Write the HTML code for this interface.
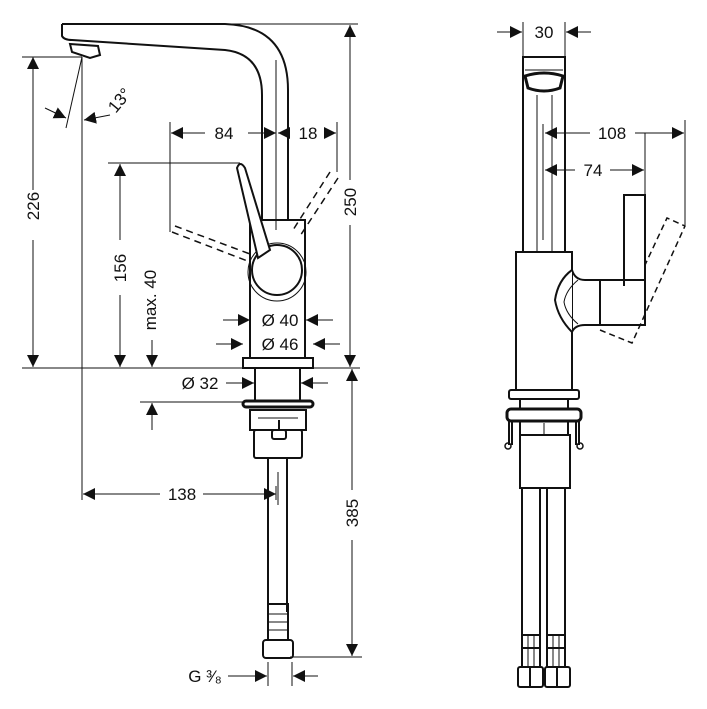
<!DOCTYPE html>
<html><head><meta charset="utf-8"><style>html,body{margin:0;padding:0;background:#fff}svg{display:block}text{font-family:"Liberation Sans",sans-serif;font-size:17px;fill:#111}</style></head><body>
<svg width="707" height="709" viewBox="0 0 707 709" xmlns="http://www.w3.org/2000/svg">
<defs>
<marker id="a" viewBox="0 0 10 10" refX="10" refY="5" markerWidth="12" markerHeight="12" markerUnits="userSpaceOnUse" orient="auto"><path d="M0,0L10,5L0,10z" fill="#111"/></marker>
</defs>
<g stroke="#111" fill="none" stroke-width="1">
<line x1="62" y1="24" x2="358" y2="24"/>
<line x1="22" y1="57" x2="82" y2="57"/>
<line x1="82" y1="57" x2="82" y2="500"/>
<line x1="22" y1="368" x2="360" y2="368"/>
<line x1="170" y1="122" x2="170" y2="232"/>
<line x1="337" y1="122" x2="337" y2="172"/>
<line x1="108" y1="163" x2="240" y2="163"/>
<line x1="140" y1="402" x2="250" y2="402"/>
<line x1="82" y1="57" x2="66" y2="128"/>
<line x1="276" y1="486" x2="276" y2="500"/>
<line x1="268" y1="662" x2="268" y2="686"/>
<line x1="292" y1="662" x2="292" y2="686"/>
<line x1="290" y1="657" x2="362" y2="657"/>
<line x1="33" y1="190" x2="33" y2="57" marker-end="url(#a)"/><line x1="33" y1="240" x2="33" y2="367" marker-end="url(#a)"/>
<line x1="120" y1="240" x2="120" y2="164" marker-end="url(#a)"/><line x1="120" y1="295" x2="120" y2="367" marker-end="url(#a)"/>
<line x1="152" y1="340" x2="152" y2="367" marker-end="url(#a)"/>
<line x1="152" y1="430" x2="152" y2="403" marker-end="url(#a)"/>
<line x1="350" y1="180" x2="350" y2="25" marker-end="url(#a)"/><line x1="350" y1="225" x2="350" y2="367" marker-end="url(#a)"/>
<line x1="352" y1="490" x2="352" y2="369" marker-end="url(#a)"/><line x1="352" y1="540" x2="352" y2="656" marker-end="url(#a)"/>
<line x1="205" y1="133" x2="171" y2="133" marker-end="url(#a)"/><line x1="248" y1="133" x2="276" y2="133" marker-end="url(#a)"/>
<line x1="290" y1="133" x2="278" y2="133" marker-end="url(#a)"/><line x1="326" y1="133" x2="336" y2="133" marker-end="url(#a)"/>
<line x1="223" y1="320" x2="250" y2="320" marker-end="url(#a)"/><line x1="333" y1="320" x2="306" y2="320" marker-end="url(#a)"/>
<line x1="216" y1="344" x2="243" y2="344" marker-end="url(#a)"/><line x1="340" y1="344" x2="313" y2="344" marker-end="url(#a)"/>
<line x1="226" y1="383" x2="254" y2="383" marker-end="url(#a)"/><line x1="328" y1="383" x2="301" y2="383" marker-end="url(#a)"/>
<line x1="160" y1="494" x2="83" y2="494" marker-end="url(#a)"/><line x1="203" y1="494" x2="276" y2="494" marker-end="url(#a)"/>
<line x1="228" y1="676" x2="267" y2="676" marker-end="url(#a)"/><line x1="318" y1="676" x2="293" y2="676" marker-end="url(#a)"/>
<line x1="45" y1="108" x2="66" y2="118" marker-end="url(#a)"/>
<line x1="110" y1="115" x2="84" y2="120" marker-end="url(#a)"/>
</g>
<g stroke="#111" fill="none" stroke-width="2">
<path d="M62,24 L225,24 Q288,26 288,90 L288,220"/>
<path d="M62,24 L62,36 Q64,40 72,40 L225,50 Q262,54 262,95 L262,220"/>
<path d="M70,44 L98,46 L100,55 L90,58 L72,52 Z"/>
<line x1="276" y1="60" x2="276" y2="230" stroke-width="1"/>
<rect x="250" y="220" width="55" height="138"/>
<rect x="243" y="358" width="70" height="10"/>
<circle cx="277" cy="270" r="25"/>
<circle cx="277" cy="272" r="29" stroke-width="1"/>
<path d="M237,168 Q240,160 245,168 L270,250 L258,258 Z" fill="#fff"/>
<path d="M172,232 L250,262 M175,226 L250,254" stroke-dasharray="7,5" stroke-width="1.5"/>
<path d="M330,172 L293,230 M338,178 L300,236" stroke-dasharray="7,5" stroke-width="1.5"/>
<rect x="255" y="368" width="45" height="33"/>
<rect x="243" y="401" width="70" height="6" rx="3" stroke-width="3"/>
<rect x="250" y="410" width="56" height="20"/>
<line x1="258" y1="418" x2="298" y2="418" stroke-width="1"/>
<rect x="272" y="430" width="14" height="9" rx="2"/>
<line x1="279" y1="420" x2="279" y2="430"/>
<rect x="254" y="430" width="48" height="28" rx="2"/>
<line x1="268" y1="458" x2="268" y2="612"/><line x1="287" y1="458" x2="287" y2="612"/>
<line x1="278" y1="472" x2="278" y2="505" stroke-width="1"/>
<rect x="268" y="604" width="20" height="36"/>
<line x1="268" y1="614" x2="288" y2="614" stroke-width="1"/><line x1="268" y1="622" x2="288" y2="622" stroke-width="1"/><line x1="268" y1="630" x2="288" y2="630" stroke-width="1"/>
<rect x="263" y="640" width="30" height="18" rx="3"/>
</g>
<g>
<text x="224" y="139" text-anchor="middle">84</text>
<text x="308" y="139" text-anchor="middle">18</text>
<text x="280" y="326" text-anchor="middle">Ø 40</text>
<text x="280" y="350" text-anchor="middle">Ø 46</text>
<text x="200" y="389" text-anchor="middle">Ø 32</text>
<text x="182" y="500" text-anchor="middle">138</text>
<text x="205" y="682" text-anchor="middle">G ³⁄₈</text>
<text transform="translate(39,206) rotate(-90)" text-anchor="middle">226</text>
<text transform="translate(126,268) rotate(-90)" text-anchor="middle">156</text>
<text transform="translate(156,300) rotate(-90)" text-anchor="middle">max. 40</text>
<text transform="translate(356,202) rotate(-90)" text-anchor="middle">250</text>
<text transform="translate(358,513) rotate(-90)" text-anchor="middle">385</text>
<text transform="translate(124,104) rotate(-50)" text-anchor="middle">13°</text>
</g>
<!-- right view -->
<g stroke="#111" fill="none" stroke-width="1">
<line x1="523" y1="22" x2="523" y2="57"/><line x1="565" y1="22" x2="565" y2="57"/>
<line x1="685" y1="120" x2="685" y2="225"/><line x1="645" y1="133" x2="645" y2="195"/>
<line x1="497" y1="32" x2="522" y2="32" marker-end="url(#a)"/><line x1="591" y1="32" x2="566" y2="32" marker-end="url(#a)"/>
<line x1="590" y1="133" x2="545" y2="133" marker-end="url(#a)"/><line x1="635" y1="133" x2="684" y2="133" marker-end="url(#a)"/>
<line x1="575" y1="170" x2="545" y2="170" marker-end="url(#a)"/><line x1="610" y1="170" x2="644" y2="170" marker-end="url(#a)"/>
<line x1="543" y1="124" x2="543" y2="240"/>
<line x1="537" y1="95" x2="537" y2="252"/><line x1="552" y1="95" x2="552" y2="252"/>
</g>
<g stroke="#111" fill="none" stroke-width="2">
<rect x="523" y="57" width="42" height="195"/>
<path d="M525,76 Q544,70 563,76 L560,88 Q544,94 528,88 Z" stroke-width="3"/>
<line x1="525" y1="70" x2="563" y2="70" stroke-width="1"/>
<rect x="516" y="252" width="56" height="138"/>
<path d="M572,270 Q575,280 585,280 L600,280 L600,325 L585,325 Q575,325 572,332"/>
<path d="M572,270 Q558,280 555,300 Q558,318 572,332" fill="#fff"/>
<path d="M578,280 Q566,290 564,302 Q566,314 578,324" stroke-width="1"/>
<rect x="600" y="280" width="45" height="45"/>
<path d="M624,280 L624,195 L645,195 L645,325"/>
<line x1="624" y1="286" x2="624" y2="268"/>
<path d="M600,330 L632,343 L685,226 L667,218 L645,265" stroke-dasharray="6,4" stroke-width="1.5"/>
<rect x="509" y="390" width="70" height="9" rx="2"/>
<rect x="520" y="399" width="48" height="10"/>
<rect x="507" y="409" width="74" height="12" rx="4" stroke-width="3"/>
<path d="M509,421 L509,445 M512,421 L512,445 M579,421 L579,445 M576,421 L576,445"/>
<circle cx="508" cy="446" r="3" stroke-width="1.5"/><circle cx="580" cy="446" r="3" stroke-width="1.5"/>
<rect x="520" y="421" width="48" height="14"/>
<line x1="544" y1="423" x2="544" y2="435" stroke-width="1"/>
<rect x="520" y="435" width="50" height="53"/>
<line x1="522" y1="488" x2="522" y2="635"/><line x1="540" y1="488" x2="540" y2="635"/>
<line x1="547" y1="488" x2="547" y2="635"/><line x1="565" y1="488" x2="565" y2="635"/>
<rect x="522" y="635" width="18" height="32"/><rect x="547" y="635" width="18" height="32"/>
<line x1="528" y1="635" x2="528" y2="667" stroke-width="1"/><line x1="534" y1="635" x2="534" y2="667" stroke-width="1"/>
<line x1="553" y1="635" x2="553" y2="667" stroke-width="1"/><line x1="559" y1="635" x2="559" y2="667" stroke-width="1"/>
<line x1="522" y1="648" x2="540" y2="648"/><line x1="547" y1="648" x2="565" y2="648"/>
<rect x="518" y="667" width="25" height="20" rx="2"/><rect x="545" y="667" width="25" height="20" rx="2"/>
<line x1="530" y1="667" x2="530" y2="687"/><line x1="557" y1="667" x2="557" y2="687"/>
</g>
<text x="544" y="38" text-anchor="middle">30</text>
<text x="612" y="139" text-anchor="middle">108</text>
<text x="593" y="176" text-anchor="middle">74</text>
</svg>
</body></html>
